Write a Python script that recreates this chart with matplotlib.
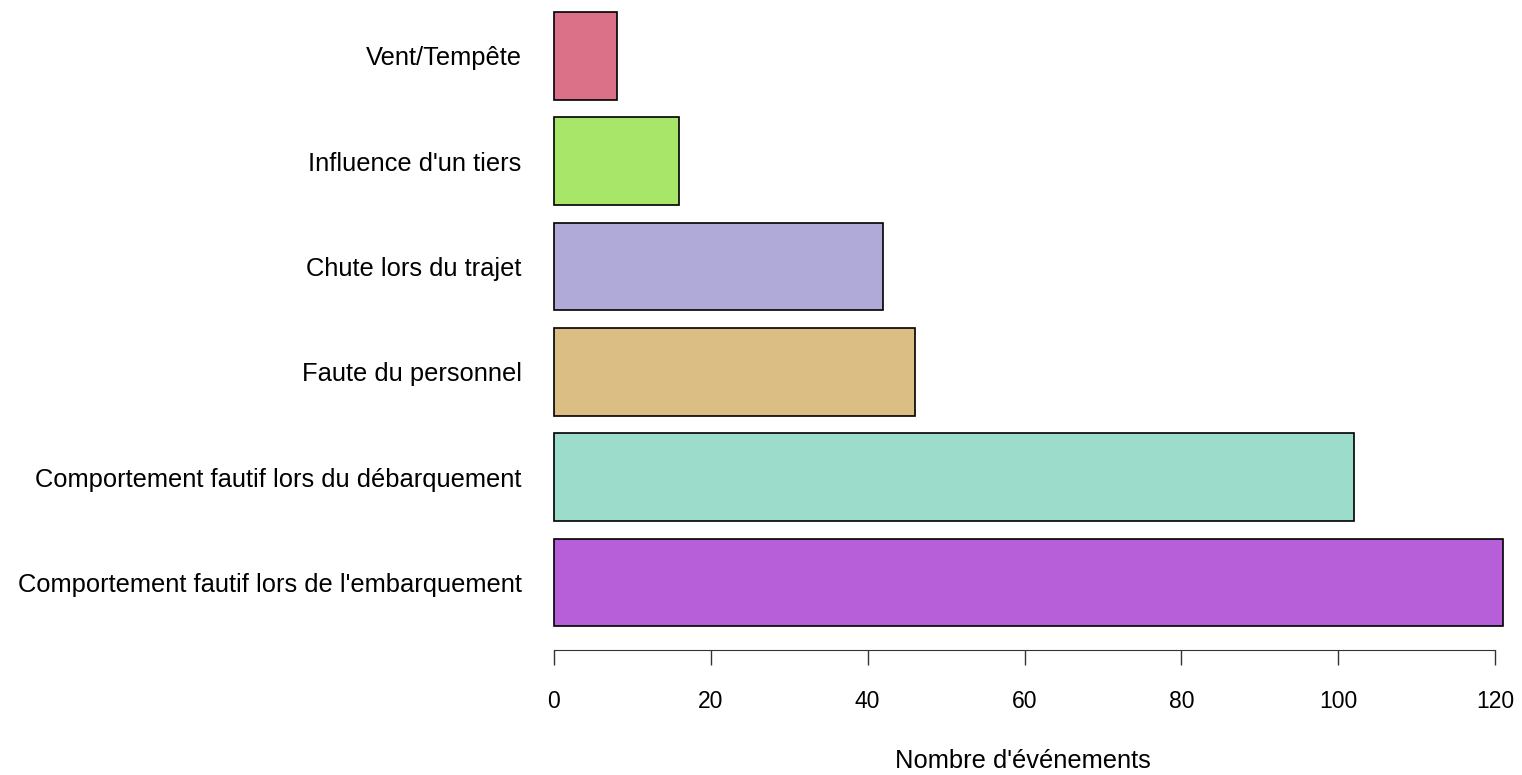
import matplotlib.pyplot as plt

plt.rcParams['font.family'] = ['Liberation Sans', 'DejaVu Sans']

# data, bottom to top
categories = ["Comportement fautif lors de l'embarquement",
              "Comportement fautif lors du débarquement",
              "Faute du personnel",
              "Chute lors du trajet",
              "Influence d'un tiers",
              "Vent/Tempête"]
counts = [121, 102, 46, 42, 16, 8]
colors = ['#B75FD9', '#9BDCCB', '#DBBE84', '#B0AAD8', '#A8E66A', '#DB7189']
x_ticks = [0, 20, 40, 60, 80, 100, 120]

W, H = 1522, 775
fig = plt.figure(figsize=(W / 100, H / 100), dpi=100)
# axes in pixel coords: left 530, right 1515, top 0, bottom 640
ax = fig.add_axes([530 / W, (H - 640) / H, (1515 - 530) / W, 640 / H])

pos = list(range(len(categories)))
ax.barh(pos, counts, height=0.833, color=colors, edgecolor='black', linewidth=1.2)

scale = (1495 - 554) / 120.0
ax.set_xlim((530 - 554) / scale, (1515 - 554) / scale)
step = (582.5 - 56) / 5
ax.set_ylim(-(640 - 582.5) / step, 5 + 56 / step)

for s in ['top', 'right', 'left']:
    ax.spines[s].set_visible(False)
ax.spines['bottom'].set_position(('outward', 7.2))
ax.spines['bottom'].set_bounds(0, 120)
ax.spines['bottom'].set_color('#333333')

ax.set_xticks(x_ticks)
ax.tick_params(axis='x', length=10.8, width=1, color='#333333', labelsize=16.5, pad=18)
ax.set_yticks(pos)
ax.set_yticklabels(categories)
ax.tick_params(axis='y', length=0, labelsize=18.4, pad=6)

ax.set_xlabel("Nombre d'événements", fontsize=18.4, labelpad=26)

fig.savefig('out.png', dpi=100)
